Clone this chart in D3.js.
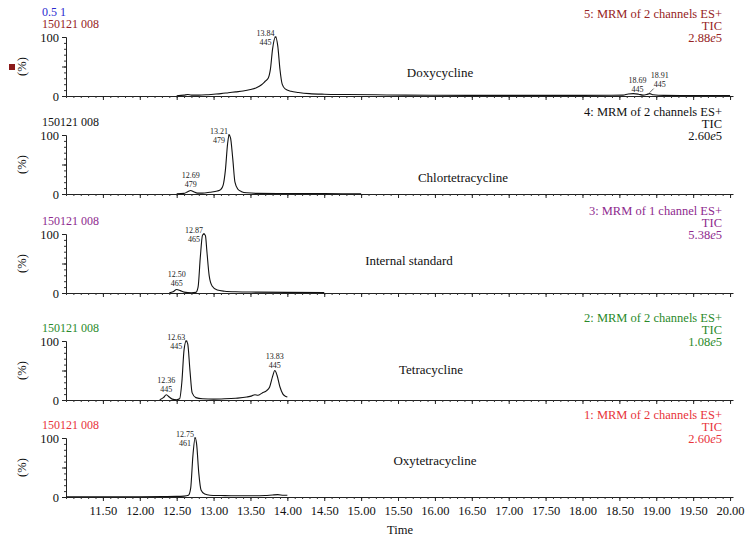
<!DOCTYPE html>
<html><head><meta charset="utf-8">
<script src="https://cdn.jsdelivr.net/npm/d3@7"></script>
<style>body{margin:0;background:#fff}svg{display:block}text{font-family:"Liberation Serif","DejaVu Serif",serif}</style>
</head><body>
<svg id="c" width="754" height="543"></svg>
<script>
// ---------- data ----------
const timeTicks = ["11.50","12.00","12.50","13.00","13.50","14.00","14.50","15.00","15.50","16.00","16.50","17.00","17.50","18.00","18.50","19.00","19.50","20.00"];
const compounds = ["Doxycycline","Chlortetracycline","Internal standard","Tetracycline","Oxytetracycline"];
const channelTitles = ["5: MRM of 2 channels ES+","4: MRM of 2 channels ES+","3: MRM of 1 channel ES+","2: MRM of 2 channels ES+","1: MRM of 2 channels ES+"];
const intensityMant = ["2.88","2.60","5.38","1.08","2.60"];
const intensityExp = ["5","5","5","5","5"];
const sampleId = "150121 008";
const header = "0.5 1";

const doxycycline = [[12.50,0.5],[12.60,1.5],[12.65,2.5],[12.70,1.5],[12.80,1.5],[12.90,2],[13.00,3],[13.10,4],[13.20,5.5],[13.30,7],[13.40,8.5],[13.50,11],[13.58,14],[13.65,19],[13.70,25],[13.74,30],[13.77,45],[13.80,80],[13.84,100],[13.87,85],[13.90,45],[13.93,20],[13.97,12],[14.05,8],[14.15,6],[14.30,4],[14.50,3],[14.80,2.5],[15.20,2],[15.60,1.5],[16.00,1.2],[17.00,1],[18.00,1],[18.40,1.2],[18.55,1.5],[18.62,3.5],[18.69,4],[18.76,3],[18.82,1.5],[18.87,2.5],[18.91,4],[18.96,2],[19.10,1],[19.50,0.8],[20.00,0.8]];
const chlortetracycline = [[12.50,0.5],[12.60,1],[12.65,4],[12.69,6],[12.73,4],[12.78,1.5],[12.85,1.5],[12.95,3],[13.05,5],[13.10,8],[13.13,15],[13.16,40],[13.19,85],[13.21,100],[13.23,95],[13.26,60],[13.29,20],[13.33,8],[13.38,4],[13.45,2],[13.60,1],[14.00,0.8],[14.50,0.6],[15.00,0.5]];
const internalStd = [[12.40,0.5],[12.45,2],[12.50,6],[12.55,4],[12.60,1.5],[12.70,0.5],[12.76,1],[12.79,10],[12.82,60],[12.85,98],[12.87,100],[12.89,97],[12.91,70],[12.94,30],[12.98,12],[13.05,5],[13.15,3],[13.30,2],[13.60,1.5],[14.00,1],[14.50,0.8]];
const tetracycline = [[12.27,0.5],[12.32,4],[12.36,9],[12.40,5],[12.44,1.5],[12.50,0.5],[12.54,2],[12.57,30],[12.60,85],[12.63,100],[12.65,95],[12.68,50],[12.71,12],[12.76,4],[12.85,2],[13.00,1.5],[13.15,2],[13.30,3],[13.45,5],[13.52,7],[13.56,9],[13.60,8],[13.66,12],[13.72,16],[13.76,22],[13.80,40],[13.83,50],[13.86,42],[13.90,22],[13.94,10],[13.98,6],[14.00,5]];
const oxytetracycline = [[11.00,0.3],[11.50,0.3],[12.00,0.5],[12.30,0.8],[12.50,1],[12.60,1.5],[12.66,3],[12.69,15],[12.72,70],[12.75,100],[12.77,90],[12.80,40],[12.83,12],[12.88,5],[12.95,3],[13.10,2.5],[13.30,2],[13.50,2],[13.70,2.5],[13.80,3.5],[13.87,4],[13.95,3],[14.00,3]];

const doxyPeaks = [[13.84,445],[18.69,445],[18.91,445]];
const chlorPeaks = [[13.21,479],[12.69,479]];
const isPeaks = [[12.87,465],[12.50,465]];
const tetraPeaks = [[12.63,445],[12.36,445],[13.83,445]];
const oxyPeaks = [[12.75,461]];

const seriesList = [doxycycline, chlortetracycline, internalStd, tetracycline, oxytetracycline];
const peakList = [doxyPeaks, chlorPeaks, isPeaks, tetraPeaks, oxyPeaks];

// ---------- layout / style ----------
const colors = ["#962323","#111111","#8e2a8e","#2a8a2a","#e8333a"];
const panelTops = [37,135,234,341,438];
const panelH = 59;
const compoundPos = [[440,73],[463,178],[409,261],[431,370],[435,461]];
const X0 = 66, X1 = 733, RIGHT = 722;

const svg = d3.select("#c");
const x = d3.scaleLinear().domain([11.0,20.04]).range([X0,X1]);

svg.append("text").attr("x",42).attr("y",16).attr("fill","#2a2ad0").attr("font-size",12).text(header);
svg.append("rect").attr("x",9).attr("y",64).attr("width",6).attr("height",6).attr("fill","#8b1a1a");

seriesList.forEach((data,i)=>{
  const top = panelTops[i], bot = top+panelH;
  const y = d3.scaleLinear().domain([0,100]).range([bot,top]);
  const g = svg.append("g");
  // y axis
  const ya = d3.axisLeft(y).tickValues(d3.range(0,101,10)).tickFormat(()=>"").tickSize(2);
  g.append("g").attr("transform",`translate(${X0},0)`).call(ya).call(s=>{s.select(".domain").attr("stroke","#222");s.selectAll("line").attr("stroke","#333");});
  g.append("g").attr("transform",`translate(${X0},0)`).call(d3.axisLeft(y).tickValues([0,50,100]).tickFormat(d=>d===50?"":d).tickSize(4).tickPadding(3))
    .call(s=>{s.select(".domain").remove();s.selectAll("line").attr("stroke","#222");s.selectAll("text").attr("font-size",12.5).attr("fill","#111").attr("font-family","Liberation Serif");});
  // x axis
  g.append("g").attr("transform",`translate(0,${bot})`).call(d3.axisBottom(x).tickValues(d3.range(110,201,1).map(v=>v/10)).tickFormat(()=>"").tickSizeInner(2).tickSizeOuter(0))
    .call(s=>{s.select(".domain").attr("stroke","#222");s.selectAll("line").attr("stroke","#333");});
  const xa = d3.axisBottom(x).tickValues(timeTicks.map(Number)).tickSize(4).tickPadding(5)
      .tickFormat((d,k)=> i===4 ? timeTicks[k] : "");
  g.append("g").attr("transform",`translate(0,${bot})`).call(xa)
    .call(s=>{s.select(".domain").remove();s.selectAll("line").attr("stroke","#222");s.selectAll("text").attr("font-size",12.5).attr("fill","#111").attr("font-family","Liberation Serif");});
  // y label
  g.append("text").attr("transform",`translate(26,${(top+bot)/2}) rotate(-90)`).attr("text-anchor","middle").attr("font-size",12.5).attr("fill","#111").text("(%)");
  // sample id
  g.append("text").attr("x",42).attr("y",top-9).attr("font-size",12).attr("fill",colors[i]).text(sampleId);
  // right labels
  const r = g.append("g").attr("fill",colors[i]).attr("font-size",12.5).attr("text-anchor","end");
  r.append("text").attr("x",RIGHT).attr("y",top-19).text(channelTitles[i]);
  r.append("text").attr("x",RIGHT).attr("y",top-7).text("TIC");
  const t3 = r.append("text").attr("x",RIGHT).attr("y",top+5);
  t3.append("tspan").text(intensityMant[i]);
  t3.append("tspan").attr("font-style","italic").text("e");
  t3.append("tspan").text(intensityExp[i]);
  // compound name
  g.append("text").attr("x",compoundPos[i][0]).attr("y",compoundPos[i][1]+4).attr("text-anchor","middle").attr("font-size",13).attr("fill","#111").text(compounds[i]);
  // trace
  const line = d3.line().x(d=>x(d[0])).y(d=>y(d[1])).curve(d3.curveMonotoneX);
  g.append("path").datum(data).attr("d",line).attr("fill","none").attr("stroke","#111").attr("stroke-width",1.1);
  // peak labels
  peakList[i].forEach(p=>{
    const pt = data.reduce((a,b)=>Math.abs(b[0]-p[0])<Math.abs(a[0]-p[0])?b:a);
    const px = x(p[0]), py = y(pt[1]);
    const big = pt[1]>=90;
    let cx = big ? px-10 : px, by = big ? top-1.5 : py-12;
    if (p[0]===18.69) { cx = px+4; by = py-11; }
    if (p[0]===18.91) { cx = px+10; by = py-16;
      g.append("line").attr("x1",px+4).attr("y1",py-5).attr("x2",px).attr("y2",py-1).attr("stroke","#222").attr("stroke-width",0.7); }
    const lt = g.append("g").attr("font-size",8).attr("fill","#222").attr("text-anchor","middle");
    lt.append("text").attr("x",cx).attr("y",by).text(p[0].toFixed(2));
    lt.append("text").attr("x",cx).attr("y",by+9).text(p[1]);
    if (big) g.append("line").attr("x1",px-1).attr("x2",px+1).attr("y1",py).attr("y2",py).attr("stroke","#111");
  });
});
svg.append("text").attr("x",400).attr("y",534).attr("text-anchor","middle").attr("font-size",12.5).attr("fill","#111").text("Time");
</script>
</body></html>
